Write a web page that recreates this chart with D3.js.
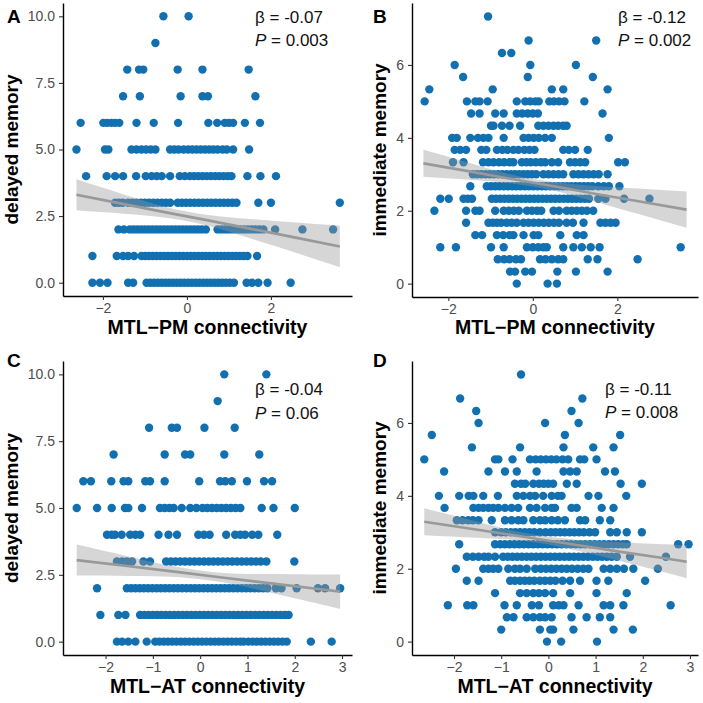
<!DOCTYPE html>
<html><head><meta charset="utf-8">
<script src="https://cdn.jsdelivr.net/npm/d3@7"></script>
<style>body{margin:0;background:#fff} svg{display:block}</style>
</head><body><svg id="c" width="703" height="703"></svg>
<script>
// ---------- DATA ----------
// rows: [memory score, [connectivity values of subjects with that score]]
const delayedPM = [
 [10, [-0.56, 0.04]],
 [9, [-0.75]],
 [8, [-1.42, -1.14, -1.04, -0.22, 0.37, 1.47]],
 [7, [-1.52, -1.12, -0.15, 0.37, 0.5, 1.63]],
 [6, [-2.53, -1.99, -1.9, -1.8, -1.71, -1.61, -1.2, -0.79, -0.21, 0.51, 0.72, 0.9, 1.0, 1.1, 1.38, 1.74]],
 [5, [-2.63, -1.95, -1.87, -1.32, -1.2, -1.08, -0.97, -0.86, -0.75, -0.4, -0.3, -0.2, -0.08, 0.03, 0.13, 0.23, 0.33, 0.43, 0.53, 0.63, 0.73, 0.85, 0.95, 1.1, 1.48]],
 [4, [-2.4, -1.91, -1.71, -1.52, -1.21, -0.98, -0.84, -0.72, -0.6, -0.4, -0.17, -0.05, 0.07, 0.17, 0.27, 0.37, 0.47, 0.57, 0.67, 0.77, 0.87, 0.97, 1.06, 1.44, 1.75, 2.12]],
 [3, [-1.71, -1.62, -1.53, -1.4, -1.3, -1.2, -1.1, -1.0, -0.9, -0.8, -0.7, -0.6, -0.5, -0.4, -0.22, -0.12, -0.02, 0.08, 0.18, 0.28, 0.38, 0.48, 0.58, 0.68, 0.78, 0.88, 0.98, 1.08, 1.18, 1.7, 2.0, 3.64]],
 [2, [-1.63, -1.5, -1.36, -1.27, -1.18, -1.09, -1.0, -0.91, -0.82, -0.73, -0.64, -0.55, -0.46, -0.37, -0.28, -0.19, -0.1, -0.01, 0.08, 0.17, 0.26, 0.35, 0.45, 0.73, 0.82, 0.91, 1.0, 1.09, 1.18, 1.27, 1.36, 1.45, 1.54, 1.63, 1.72, 1.82, 2.1, 2.75, 3.48]],
 [1, [-2.25, -1.67, -1.52, -1.4, -1.26, -1.08, -0.99, -0.9, -0.81, -0.72, -0.63, -0.54, -0.45, -0.36, -0.27, -0.18, -0.09, 0.0, 0.09, 0.18, 0.27, 0.36, 0.45, 0.54, 0.63, 0.72, 0.81, 0.9, 0.99, 1.08, 1.17, 1.26, 1.35, 1.44, 1.67]],
 [0, [-2.25, -2.07, -1.89, -1.4, -1.28, -0.96, -0.87, -0.78, -0.69, -0.6, -0.51, -0.42, -0.33, -0.24, -0.15, -0.06, 0.03, 0.12, 0.21, 0.3, 0.39, 0.48, 0.57, 0.66, 0.75, 0.84, 0.93, 1.02, 1.12, 1.42, 1.55, 1.7, 1.92, 2.47]]
];
const immediatePM = [
 [7.33, [-1.06]],
 [6.67, [-0.1, 1.5]],
 [6.33, [-0.73, -0.51]],
 [6, [-1.85, -0.06, 1.02]],
 [5.67, [-1.65, -0.12, 1.42]],
 [5.33, [-2.45, -0.95, 0.45, 0.72, 1.77]],
 [5, [-2.56, -1.56, -1.36, -1.26, -1.07, -0.38, -0.18, -0.06, 0.06, 0.14, 0.39, 0.5, 0.62, 0.75, 1.22]],
 [4.67, [-1.46, -1.26, -0.89, -0.69, -0.38, -0.25, -0.12, 0.0, 0.12, 1.65]],
 [4.33, [-0.99, -0.93, -0.73, -0.55, -0.3, 0.13, 0.25, 0.37, 0.49, 0.6, 0.72, 0.8]],
 [4, [-1.91, -1.8, -1.48, -1.3, -1.17, -1.05, -0.69, -0.22, -0.1, 0.02, 0.14, 0.29, 0.45, 1.8]],
 [3.67, [-1.85, -1.72, -1.58, -1.22, -1.1, -0.85, -0.72, -0.6, -0.46, -0.34, -0.2, -0.08, 0.04, 0.72, 0.85, 1.0, 1.3]],
 [3.33, [-1.89, -1.64, -1.18, -1.05, -0.93, -0.8, -0.68, -0.55, -0.46, -0.26, -0.15, -0.05, 0.07, 0.19, 0.29, 0.45, 0.6, 0.88, 1.0, 1.12, 1.24, 2.02, 2.18]],
 [3, [-1.42, -1.32, -1.22, -1.12, -1.02, -0.92, -0.82, -0.72, -0.62, -0.52, -0.42, -0.32, -0.22, -0.12, -0.02, 0.08, 0.25, 0.37, 0.49, 0.61, 0.72, 0.96, 1.08, 1.2, 1.32, 1.44, 1.56, 1.77]],
 [2.67, [-1.48, -1.09, -0.99, -0.89, -0.79, -0.69, -0.59, -0.49, -0.39, -0.29, -0.19, -0.09, 0.01, 0.11, 0.21, 0.31, 0.41, 0.51, 0.61, 0.71, 0.81, 0.91, 1.01, 1.11, 1.21, 1.31, 1.41, 1.55, 1.68, 1.8, 2.05]],
 [2.33, [-2.19, -1.99, -1.64, -1.54, -1.44, -0.97, -0.87, -0.77, -0.67, -0.57, -0.47, -0.37, -0.27, -0.17, -0.07, 0.03, 0.13, 0.23, 0.33, 0.43, 0.53, 0.63, 0.73, 0.83, 0.93, 1.03, 1.13, 1.23, 1.33, 1.55, 1.72, 2.16, 2.76]],
 [2, [-2.33, -1.58, -1.36, -1.26, -0.89, -0.69, -0.57, -0.45, -0.33, -0.14, -0.02, 0.1, 0.2, 0.49, 0.62, 0.8, 0.92, 1.04, 1.16, 1.28, 1.43]],
 [1.67, [-1.58, -1.05, -0.95, -0.85, -0.75, -0.62, -0.5, -0.38, -0.22, -0.1, 0.02, 0.14, 0.26, 0.38, 0.5, 0.62, 0.8, 0.95, 1.2, 1.6, 1.72, 1.84, 1.96]],
 [1.33, [-1.36, -1.2, -0.85, -0.7, -0.55, -0.46, -0.22, 0.02, 0.13, 0.65, 1.04, 1.2]],
 [1, [-2.19, -1.82, -0.99, -0.69, -0.14, 0.0, 0.13, 0.25, 0.33, 0.72, 0.96, 1.16, 1.37, 1.58, 3.5]],
 [0.67, [-0.83, -0.68, -0.55, -0.4, -0.28, 0.17, 0.3, 0.45, 0.6, 0.72, 1.3, 1.53, 2.48]],
 [0.33, [-0.54, -0.42, -0.18, -0.02, 0.58, 1.02, 1.77]],
 [0, [-0.38, 0.35, 0.57]]
];
const delayedAT = [
 [10, [0.51, 1.4]],
 [9, [0.37]],
 [8, [-1.08, -0.6, -0.49, 0.09, 0.73]],
 [7, [-1.83, -0.75, -0.32, -0.21, 0.51, 1.25]],
 [6, [-2.47, -2.31, -1.88, -1.62, -1.52, -1.16, -1.06, -0.75, -0.02, 0.42, 0.53, 0.67, 0.99, 1.35, 1.52]],
 [5, [-2.61, -2.18, -1.87, -1.59, -1.52, -1.23, -0.85, -0.75, -0.65, -0.56, -0.39, -0.21, -0.08, 0.05, 0.15, 0.25, 0.35, 0.45, 0.55, 0.65, 0.75, 0.85, 1.3, 1.55, 2.0]],
 [4, [-1.97, -1.87, -1.8, -1.66, -1.48, -1.37, -1.27, -0.88, -0.67, -0.49, -0.04, 0.08, 0.2, 0.55, 0.74, 0.85, 0.95, 1.1, 1.23, 1.63]],
 [3, [-1.76, -1.65, -1.55, -1.44, -1.2, -1.06, -0.72, -0.62, -0.52, -0.42, -0.32, -0.22, -0.12, -0.02, 0.08, 0.18, 0.28, 0.38, 0.48, 0.58, 0.68, 0.78, 0.88, 0.98, 1.08, 1.18, 1.28, 1.4, 1.99]],
 [2, [-2.18, -1.55, -1.46, -1.37, -1.28, -1.19, -1.1, -1.01, -0.92, -0.83, -0.74, -0.65, -0.56, -0.47, -0.38, -0.29, -0.2, -0.11, -0.02, 0.07, 0.16, 0.25, 0.34, 0.43, 0.52, 0.61, 0.7, 0.79, 0.88, 0.97, 1.06, 1.15, 1.24, 1.33, 1.42, 1.6, 1.72, 2.04, 2.49, 2.64, 2.96]],
 [1, [-2.11, -1.73, -1.58, -1.27, -1.18, -1.09, -1.0, -0.91, -0.82, -0.73, -0.64, -0.55, -0.46, -0.37, -0.28, -0.19, -0.1, -0.01, 0.08, 0.17, 0.26, 0.35, 0.44, 0.53, 0.62, 0.71, 0.8, 0.89, 0.98, 1.07, 1.16, 1.25, 1.34, 1.43, 1.52, 1.61, 1.7, 1.79, 1.87]],
 [0, [-1.76, -1.65, -1.52, -1.37, -1.13, -0.95, -0.86, -0.77, -0.68, -0.59, -0.5, -0.41, -0.32, -0.23, -0.14, -0.05, 0.04, 0.13, 0.22, 0.31, 0.4, 0.49, 0.58, 0.67, 0.76, 0.85, 0.92, 1.02, 1.11, 1.2, 1.29, 1.38, 1.47, 1.56, 1.65, 1.74, 1.83, 2.34, 2.78]]
];
const immediateAT = [
 [7.33, [-0.58]],
 [6.67, [-1.87, 0.72]],
 [6.33, [-1.53, 0.49]],
 [6, [-1.48, -0.07, 0.64]],
 [5.67, [-2.47, 0.35, 1.52]],
 [5.33, [-1.62, -0.6, 0.32, 0.95, 1.38]],
 [5, [-2.63, -1.13, -1.06, -0.76, -0.39, -0.27, -0.16, -0.05, 0.06, 0.17, 0.3, 0.42, 0.67, 0.76, 1.02]],
 [4.67, [-2.21, -1.27, -0.92, -0.67, -0.25, 0.32, 0.46, 0.6, 1.2, 1.41]],
 [4.33, [-0.71, -0.58, -0.49, -0.32, -0.2, -0.1, 0.0, 0.1, 0.39, 0.6, 1.53, 1.98]],
 [4, [-2.32, -1.89, -1.69, -1.59, -1.38, -1.07, -0.67, -0.53, -0.39, -0.28, -0.11, 0.07, 0.2, 0.28, 0.85, 1.06, 1.65]],
 [3.67, [-2.2, -1.59, -1.48, -1.38, -1.27, -1.17, -1.06, -0.92, -0.78, -0.64, -0.39, -0.25, -0.07, 0.07, 0.14, 0.49, 0.6, 1.13, 1.38]],
 [3.33, [-1.94, -1.82, -1.7, -1.6, -1.48, -1.2, -0.92, -0.78, -0.64, -0.53, -0.32, -0.18, -0.07, 0.07, 0.2, 0.35, 0.67, 0.78, 1.09, 1.31]],
 [3, [-1.13, -1.0, -0.9, -0.8, -0.7, -0.6, -0.5, -0.4, -0.3, -0.18, -0.06, 0.05, 0.15, 0.25, 0.35, 0.45, 0.55, 0.65, 0.75, 0.87, 0.99, 1.31, 1.45, 1.66, 1.98]],
 [2.67, [-1.89, -1.13, -1.02, -0.92, -0.82, -0.72, -0.62, -0.52, -0.42, -0.32, -0.22, -0.12, -0.02, 0.08, 0.18, 0.28, 0.38, 0.48, 0.58, 0.68, 0.78, 0.88, 0.98, 1.08, 1.18, 1.28, 1.38, 1.48, 1.58, 1.66, 2.75, 2.97]],
 [2.33, [-1.73, -1.6, -1.48, -1.36, -1.27, -1.13, -0.96, -0.86, -0.76, -0.66, -0.56, -0.46, -0.36, -0.26, -0.16, -0.06, 0.04, 0.14, 0.24, 0.34, 0.44, 0.54, 0.64, 0.74, 0.84, 0.94, 1.04, 1.14, 1.24, 1.34, 1.45, 1.73, 2.49]],
 [2, [-1.96, -1.38, -1.27, -1.17, -1.06, -0.85, -0.71, -0.6, -0.46, -0.28, -0.16, -0.05, 0.06, 0.17, 0.28, 0.39, 0.5, 0.62, 0.74, 0.85, 1.17, 1.31, 1.45, 1.6, 1.8, 2.32]],
 [1.67, [-1.73, -1.48, -0.81, -0.71, -0.6, -0.5, -0.4, -0.3, -0.18, -0.07, 0.04, 0.15, 0.3, 0.46, 0.67, 1.02, 1.27, 2.05]],
 [1.33, [-1.13, -0.6, -0.46, -0.32, -0.2, -0.07, 0.1, 0.46, 1.02, 1.66]],
 [1, [-2.13, -1.72, -1.59, -0.93, -0.67, -0.35, -0.2, 0.1, 0.22, 0.32, 0.64, 1.17, 1.31, 1.59, 2.59]],
 [0.67, [-0.88, -0.74, -0.46, -0.32, -0.18, -0.07, 0.07, 0.49, 0.81, 1.09, 1.31]],
 [0.33, [-1.0, -0.18, 0.04, 0.1, 0.53, 1.38, 1.79]],
 [0, [-0.03, 0.27, 1.03]]
];
// linear fit with 95% CI: [x, fit, lower, upper]
const fitA = [[-2.63,3.30,2.72,3.88],[-1.5,2.95,2.59,3.31],[-0.5,2.64,2.44,2.84],[0.5,2.34,2.14,2.54],[1.5,2.03,1.67,2.39],[2.5,1.72,1.17,2.27],[3.64,1.36,0.58,2.14]];
const fitB = [[-2.59,3.30,2.93,3.67],[-1.5,3.08,2.85,3.31],[-0.5,2.87,2.75,2.99],[0.5,2.67,2.55,2.79],[1.5,2.46,2.24,2.68],[2.5,2.26,1.91,2.61],[3.64,2.03,1.53,2.53]];
const fitC = [[-2.61,3.05,2.47,3.63],[-1.5,2.82,2.46,3.18],[-0.5,2.61,2.42,2.80],[0.5,2.39,2.21,2.57],[1.5,2.18,1.83,2.53],[2.5,1.97,1.42,2.51],[2.96,1.87,1.23,2.51]];
const fitD = [[-2.63,3.29,2.92,3.66],[-1.5,3.07,2.85,3.29],[-0.5,2.87,2.76,2.98],[0.5,2.67,2.53,2.81],[1.5,2.47,2.22,2.73],[2.5,2.28,1.89,2.67],[2.93,2.19,1.74,2.64]];
const panelLabels = ["A", "B", "C", "D"];
const betaText = ["-0.07", "-0.12", "-0.04", "-0.11"];
const pText = ["0.003", "0.002", "0.06", "0.008"];
const yTitles = ["delayed memory", "immediate memory", "delayed memory", "immediate memory"];
const xTitles = ["MTL\u2212PM connectivity", "MTL\u2212PM connectivity", "MTL\u2212AT connectivity", "MTL\u2212AT connectivity"];
const yTicksDelayed = [0, 2.5, 5, 7.5, 10];
const yTicksImmediate = [0, 2, 4, 6];
const xTicksPM = [-2, 0, 2];
const xTicksAT = [-2, -1, 0, 1, 2, 3];

// ---------- LAYOUT ----------
const panels = [
 {data: delayedPM, fit: fitA, xd: [-2.95, 3.93], yd: [-0.5, 10.5], L: 63, R: 352, T: 3, B: 296, xt: xTicksPM, yt: yTicksDelayed, yf: d3.format(".1f"), lab: [7, 23], ann: [255, 23, 46], ytx: 17.5, xty: 334},
 {data: immediatePM, fit: fitB, xd: [-2.86, 3.91], yd: [-0.367, 7.7], L: 412, R: 698, T: 3, B: 297, xt: xTicksPM, yt: yTicksImmediate, yf: d3.format("d"), lab: [373, 23], ann: [618, 23, 46], ytx: 386, xty: 334},
 {data: delayedAT, fit: fitC, xd: [-2.9, 3.21], yd: [-0.5, 10.5], L: 63, R: 352, T: 361, B: 655, xt: xTicksAT, yt: yTicksDelayed, yf: d3.format(".1f"), lab: [7, 367], ann: [255, 395, 419], ytx: 17.5, xty: 693},
 {data: immediateAT, fit: fitD, xd: [-2.89, 3.17], yd: [-0.367, 7.7], L: 412, R: 698, T: 361, B: 655, xt: xTicksAT, yt: yTicksImmediate, yf: d3.format("d"), lab: [373, 367], ann: [605, 395, 418], ytx: 386, xty: 693}
];

const svg = d3.select("#c");
const FONT = "'Liberation Sans', Arial, Helvetica, sans-serif";
const dotColor = "#1370b0";

panels.forEach((p, i) => {
  const x = d3.scaleLinear().domain(p.xd).range([p.L, p.R]);
  const y = d3.scaleLinear().domain(p.yd).range([p.B, p.T]);
  const g = svg.append("g");

  const pts = [];
  p.data.forEach(([yv, xs]) => xs.forEach(xv => pts.push([xv, yv])));
  g.append("g").selectAll("circle").data(pts).join("circle")
    .attr("cx", d => x(d[0])).attr("cy", d => y(d[1])).attr("r", 4.2)
    .attr("fill", dotColor);

  const area = d3.area().curve(d3.curveNatural)
    .x(d => x(d[0])).y0(d => y(d[2])).y1(d => y(d[3]));
  g.append("path").datum(p.fit).attr("d", area)
    .attr("fill", "#999999").attr("fill-opacity", 0.4);
  const line = d3.line().x(d => x(d[0])).y(d => y(d[1]));
  g.append("path").datum(p.fit).attr("d", line)
    .attr("fill", "none").attr("stroke", "#999999").attr("stroke-width", 2.6);

  const xa = g.append("g").attr("transform", `translate(0,${p.B})`)
    .call(d3.axisBottom(x).tickValues(p.xt).tickFormat(d3.format("d")).tickSize(4).tickSizeOuter(0).tickPadding(3));
  const ya = g.append("g").attr("transform", `translate(${p.L},0)`)
    .call(d3.axisLeft(y).tickValues(p.yt).tickFormat(p.yf).tickSize(4).tickSizeOuter(0).tickPadding(4));
  [xa, ya].forEach(a => {
    a.select(".domain").attr("stroke", "#000").attr("stroke-width", 1.4);
    a.selectAll(".tick line").attr("stroke", "#333").attr("stroke-width", 1.1);
    a.selectAll(".tick text").attr("fill", "#4d4d4d").style("font-family", FONT).style("font-size", "14px");
  });

  g.append("text").attr("x", (p.L + p.R) / 2).attr("y", p.xty)
    .attr("text-anchor", "middle").style("font-family", FONT).style("font-weight", "bold").style("font-size", "19.5px")
    .text(xTitles[i]);
  g.append("text").attr("transform", `translate(${p.ytx},${(p.T + p.B) / 2}) rotate(-90)`)
    .attr("text-anchor", "middle").style("font-family", FONT).style("font-weight", "bold").style("font-size", "19px")
    .text(yTitles[i]);
  g.append("text").attr("x", p.lab[0]).attr("y", p.lab[1])
    .style("font-family", FONT).style("font-weight", "bold").style("font-size", "19px").text(panelLabels[i]);

  g.append("text").attr("x", p.ann[0]).attr("y", p.ann[1])
    .style("font-family", FONT).style("font-size", "17px").attr("fill", "#111")
    .text("\u03b2 = " + betaText[i]);
  const pt = g.append("text").attr("x", p.ann[0]).attr("y", p.ann[2])
    .style("font-family", FONT).style("font-size", "17px").attr("fill", "#111");
  pt.append("tspan").style("font-style", "italic").text("P");
  pt.append("tspan").text(" = " + pText[i]);
});
</script>
</body></html>
